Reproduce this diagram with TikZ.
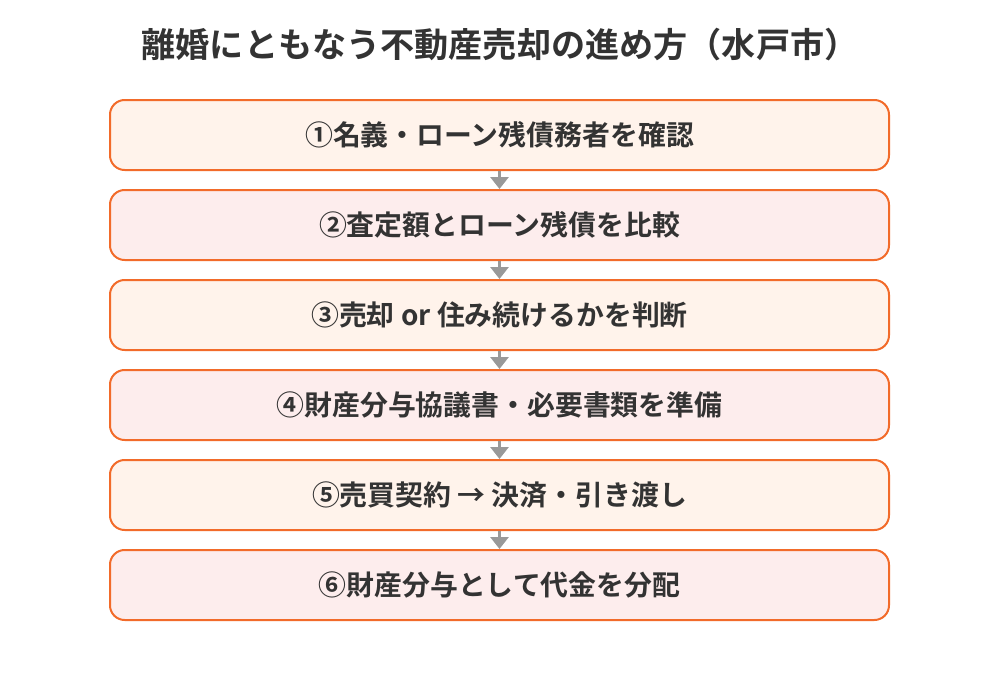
\documentclass[tikz,border=0pt]{standalone}
\usepackage{fontspec}
\setmainfont{Noto Sans CJK JP}
\newfontfamily\cjkbold{Noto Sans CJK JP Bold}
\usetikzlibrary{arrows.meta}
\definecolor{boxborder}{HTML}{F26B2A}
\definecolor{filla}{HTML}{FFF3EB}
\definecolor{fillb}{HTML}{FDEDED}
\definecolor{txt}{HTML}{333333}
\definecolor{arr}{HTML}{999999}
\tikzset{
  stepbox/.style={draw=boxborder, line width=1.5pt, rounded corners=11pt,
    minimum width=779*0.75pt, minimum height=70*0.75pt, inner sep=0pt,
    font=\cjkbold\fontsize{20.9pt}{25pt}\selectfont, text=txt},
  boxa/.style={stepbox, fill=filla},
  boxb/.style={stepbox, fill=fillb},
  flow/.style={draw=arr, line width=2.2pt, -{Triangle[width=13.5pt,length=9pt]}, shorten <=0pt, shorten >=0pt}
}
\begin{document}
\begin{tikzpicture}[x=0.75pt,y=-0.75pt]
\useasboundingbox (0,0) rectangle (1000,700);
\node[font=\cjkbold\fontsize{25.6pt}{30pt}\selectfont, text=txt] (title) at (500,45) {離婚にともなう不動産売却の進め方（水戸市）};
\node[boxa] (s1) at (499.5,135) {①名義・ローン残債務者を確認};
\node[boxb] (s2) at (499.5,225) {②査定額とローン残債を比較};
\node[boxa] (s3) at (499.5,315) {③売却 or 住み続けるかを判断};
\node[boxb] (s4) at (499.5,405) {④財産分与協議書・必要書類を準備};
\node[boxa] (s5) at (499.5,495) {⑤売買契約 → 決済・引き渡し};
\node[boxb] (s6) at (499.5,585) {⑥財産分与として代金を分配};
\foreach \a/\b in {s1/s2,s2/s3,s3/s4,s4/s5,s5/s6}
  \draw[flow] (\a.south) -- (\b.north);
\end{tikzpicture}
\end{document}
